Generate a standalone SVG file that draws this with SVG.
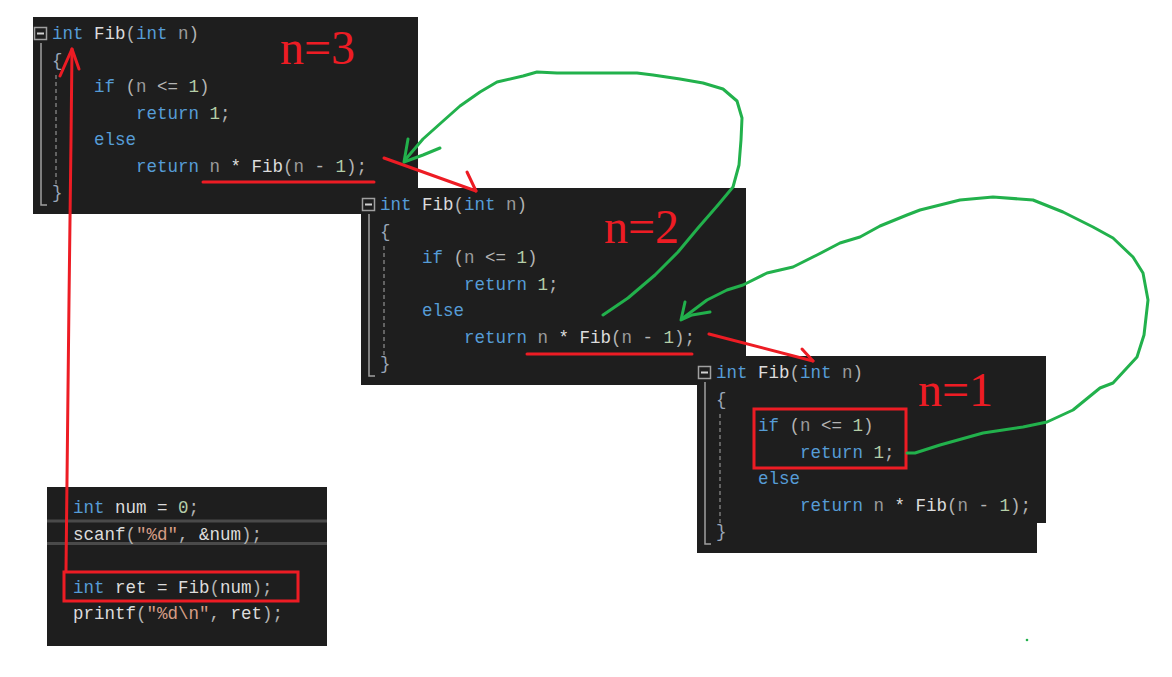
<svg xmlns="http://www.w3.org/2000/svg" width="1172" height="677" viewBox="0 0 1172 677" xml:space="preserve">
<style>
.bg{fill:#1e1e1e}
.code{font-family:"Liberation Mono","DejaVu Sans Mono",monospace;font-size:17.5px}
.kw{fill:#569cd6}
.id{fill:#dcdcdc}
.pr{fill:#9a9a9a}
.pu{fill:#b4b4b4}
.nu{fill:#b5cea8}
.st{fill:#d69d85}
.br{fill:#9aa6b8}
.box{fill:#1e1e1e;stroke:#a0a0a0;stroke-width:1.5}
.minus{stroke:#d0d0d0;stroke-width:2}
.guide{fill:none;stroke:#a0a0a0;stroke-width:1.5}
.dash{fill:none;stroke:#7a7a7a;stroke-width:1.5;stroke-dasharray:4 3}
.sep{stroke:#4a4a4a;stroke-width:3}
.red{fill:none;stroke:#ed1c24;stroke-width:3;stroke-linecap:round;stroke-linejoin:round}
.grn{fill:none;stroke:#22b14c;stroke-width:3;stroke-linecap:round;stroke-linejoin:round}
.big{font-family:"Liberation Serif","Times New Roman",serif;font-size:48px;fill:#ed1c24}
</style>
<rect width="1172" height="677" fill="#ffffff"/>

<g id="fib-n3" transform="translate(33,17)">
<rect class="bg" x="0" y="0" width="385" height="197"/>
<rect class="box" x="1.5" y="10.5" width="12" height="12"/>
<line class="minus" x1="4" y1="16.5" x2="11" y2="16.5"/>
<path class="guide" d="M8,26 V188 H14"/>
<path class="dash" d="M23,58 V168"/>
<g class="code">
<text x="19" y="22"><tspan class="kw">int</tspan><tspan class="id"> Fib</tspan><tspan class="pu">(</tspan><tspan class="kw">int</tspan><tspan class="pr"> n</tspan><tspan class="pu">)</tspan></text>
<text x="19" y="48.5" class="br">{</text>
<text x="61" y="75"><tspan class="kw">if</tspan><tspan class="pu"> (</tspan><tspan class="pr">n</tspan><tspan class="pu"> &lt;= </tspan><tspan class="nu">1</tspan><tspan class="pu">)</tspan></text>
<text x="103" y="101.5"><tspan class="kw">return</tspan><tspan class="nu"> 1</tspan><tspan class="pu">;</tspan></text>
<text x="61" y="128" class="kw">else</text>
<text x="103" y="154.5"><tspan class="kw">return</tspan><tspan class="pr"> n</tspan><tspan class="id"> * Fib</tspan><tspan class="pu">(</tspan><tspan class="pr">n</tspan><tspan class="pu"> - </tspan><tspan class="nu">1</tspan><tspan class="pu">);</tspan></text>
<text x="19" y="181" class="br">}</text>
</g>
<text class="big" x="247" y="47">n=3</text>
</g>

<g id="fib-n2" transform="translate(361,188)">
<rect class="bg" x="0" y="0" width="385" height="197"/>
<rect class="box" x="1.5" y="10.5" width="12" height="12"/>
<line class="minus" x1="4" y1="16.5" x2="11" y2="16.5"/>
<path class="guide" d="M8,26 V188 H14"/>
<path class="dash" d="M23,58 V168"/>
<g class="code">
<text x="19" y="22"><tspan class="kw">int</tspan><tspan class="id"> Fib</tspan><tspan class="pu">(</tspan><tspan class="kw">int</tspan><tspan class="pr"> n</tspan><tspan class="pu">)</tspan></text>
<text x="19" y="48.5" class="br">{</text>
<text x="61" y="75"><tspan class="kw">if</tspan><tspan class="pu"> (</tspan><tspan class="pr">n</tspan><tspan class="pu"> &lt;= </tspan><tspan class="nu">1</tspan><tspan class="pu">)</tspan></text>
<text x="103" y="101.5"><tspan class="kw">return</tspan><tspan class="nu"> 1</tspan><tspan class="pu">;</tspan></text>
<text x="61" y="128" class="kw">else</text>
<text x="103" y="154.5"><tspan class="kw">return</tspan><tspan class="pr"> n</tspan><tspan class="id"> * Fib</tspan><tspan class="pu">(</tspan><tspan class="pr">n</tspan><tspan class="pu"> - </tspan><tspan class="nu">1</tspan><tspan class="pu">);</tspan></text>
<text x="19" y="181" class="br">}</text>
</g>
<text class="big" x="243" y="55">n=2</text>
</g>

<g id="fib-n1" transform="translate(697,356)">
<path class="bg" d="M0,0 H349 V167 H340 V197 H0 Z"/>
<rect class="box" x="1.5" y="10.5" width="12" height="12"/>
<line class="minus" x1="4" y1="16.5" x2="11" y2="16.5"/>
<path class="guide" d="M8,26 V188 H14"/>
<path class="dash" d="M23,58 V168"/>
<g class="code">
<text x="19" y="22"><tspan class="kw">int</tspan><tspan class="id"> Fib</tspan><tspan class="pu">(</tspan><tspan class="kw">int</tspan><tspan class="pr"> n</tspan><tspan class="pu">)</tspan></text>
<text x="19" y="48.5" class="br">{</text>
<text x="61" y="75"><tspan class="kw">if</tspan><tspan class="pu"> (</tspan><tspan class="pr">n</tspan><tspan class="pu"> &lt;= </tspan><tspan class="nu">1</tspan><tspan class="pu">)</tspan></text>
<text x="103" y="101.5"><tspan class="kw">return</tspan><tspan class="nu"> 1</tspan><tspan class="pu">;</tspan></text>
<text x="61" y="128" class="kw">else</text>
<text x="103" y="154.5"><tspan class="kw">return</tspan><tspan class="pr"> n</tspan><tspan class="id"> * Fib</tspan><tspan class="pu">(</tspan><tspan class="pr">n</tspan><tspan class="pu"> - </tspan><tspan class="nu">1</tspan><tspan class="pu">);</tspan></text>
<text x="19" y="181" class="br">}</text>
</g>
<rect class="red" x="57" y="53" width="152" height="59" style="stroke-linecap:butt;stroke-linejoin:miter"/>
<text class="big" x="221" y="50">n=1</text>
</g>

<g id="main-code">
<rect class="bg" x="47" y="487" width="280" height="159"/>
<line class="sep" x1="47" y1="521" x2="327" y2="521"/>
<line class="sep" x1="47" y1="543.5" x2="327" y2="543.5"/>
<g class="code">
<text x="73" y="513"><tspan class="kw">int</tspan><tspan class="id"> num = </tspan><tspan class="nu">0</tspan><tspan class="pu">;</tspan></text>
<text x="73" y="539.5"><tspan class="id">scanf</tspan><tspan class="pu">(</tspan><tspan class="st">"%d"</tspan><tspan class="pu">, </tspan><tspan class="id">&amp;num</tspan><tspan class="pu">);</tspan></text>
<text x="73" y="592.5"><tspan class="kw">int</tspan><tspan class="id"> ret = Fib</tspan><tspan class="pu">(</tspan><tspan class="id">num</tspan><tspan class="pu">);</tspan></text>
<text x="73" y="619"><tspan class="id">printf</tspan><tspan class="pu">(</tspan><tspan class="st">"%d\n"</tspan><tspan class="pu">, </tspan><tspan class="id">ret</tspan><tspan class="pu">);</tspan></text>
</g>
<rect class="red" x="64" y="572" width="234" height="29" style="stroke-linecap:butt;stroke-linejoin:miter"/>
</g>

<g id="connectors">
<line class="red" x1="203" y1="182" x2="374" y2="182"/>
<line class="red" x1="527" y1="354" x2="692" y2="354"/>
<path class="red" d="M66,571 L67,480 L69,300 L71,140 L72,49"/>
<path class="red" d="M60,76 L72,49 L79,69"/>
<path class="red" d="M384,158 L476,191"/>
<path class="red" d="M467,172 L476,191"/>
<path class="red" d="M709,334 L813,361"/>
<path class="red" d="M802,349 L813,361"/>
<polyline class="grn" points="603,315 628,298 655,275 678,252 698,228 718,205 733,187 739,165 741,140 742,118 737,101 723,89 703,83 680,79 653,75 637,73 597,73 557,73 537,72 523,76 497,82 480,92 460,106 442,122 423,139 405,160"/>
<polyline class="grn" points="408,139 404,162 423,155 440,148"/>
<polyline class="grn" points="907,453 915,453 940,445 983,433 1023,427 1047,422 1073,410 1100,388 1113,383 1137,357 1144,335 1148,300 1143,273 1133,257 1113,238 1093,227 1063,212 1033,200 993,197 960,200 920,210 907,215 880,226 860,237 840,243 817,255 793,267 767,273 743,285 727,290 707,300 683,318"/>
<polyline class="grn" points="685,302 681,320 692,315 710,312"/>
<circle cx="1027" cy="640" r="1.3" fill="#22b14c"/>
</g>
</svg>
